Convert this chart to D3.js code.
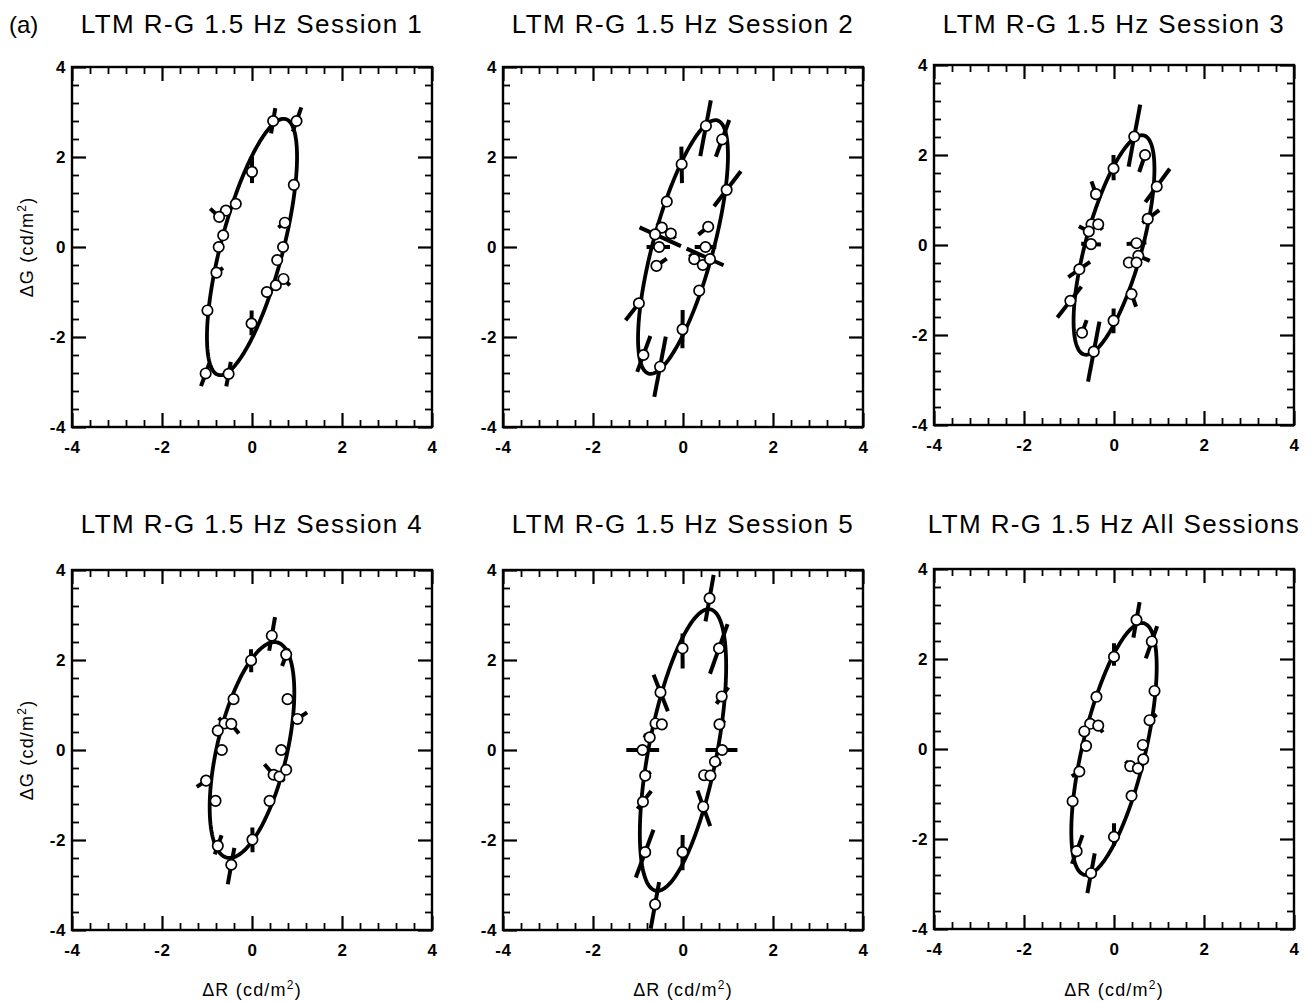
<!DOCTYPE html>
<html lang="en">
<head>
<meta charset="UTF-8">
<title>LTM R-G 1.5 Hz</title>
<script src="https://cdn.jsdelivr.net/npm/d3@7"></script>
<style>
  body { margin: 0; background: #fff; }
  text { font-family: Arial, "Liberation Sans", Helvetica, sans-serif; fill: #000; }
  .tick text { font-size: 17px; font-weight: bold; letter-spacing: 0.6px; }
</style>
</head>
<body>
<script>

// titles of the six panels
var titles = [
  "LTM R-G 1.5 Hz Session 1",
  "LTM R-G 1.5 Hz Session 2",
  "LTM R-G 1.5 Hz Session 3",
  "LTM R-G 1.5 Hz Session 4",
  "LTM R-G 1.5 Hz Session 5",
  "LTM R-G 1.5 Hz All Sessions"
];

// fitted ellipse per panel: semi-major, semi-minor (cd/m2), tilt of major axis (deg)
var ellA = [2.94, 2.915, 2.523, 2.457, 3.185, 2.872];
var ellB = [0.69, 0.67, 0.628, 0.778, 0.758, 0.70];
var ellAngle = [75.3, 74.85, 74.75, 76.9, 79.05, 76.7];

// thresholds: [dR, dG, error inward, error outward] (error along the radial direction)
var session1 = [
  [0.47, 2.80, 0.28, 0.29], [0.99, 2.80, 0.25, 0.32], [0.00, 1.67, 0.25, 0.33],
  [0.93, 1.38, 0.10, 0.10], [-0.36, 0.96, 0.05, 0.10], [-0.58, 0.81, 0.05, 0.08],
  [-0.73, 0.67, 0.05, 0.27], [0.73, 0.54, 0.18, 0.05], [-0.64, 0.26, 0.05, 0.10],
  [-0.74, 0.00, 0.10, 0.12], [0.69, 0.00, 0.08, 0.05], [0.56, -0.29, 0.05, 0.05],
  [-0.79, -0.57, 0.18, 0.05], [0.70, -0.71, 0.05, 0.20], [0.53, -0.85, 0.05, 0.05],
  [0.33, -1.00, 0.10, 0.05], [-0.99, -1.41, 0.05, 0.05], [-0.01, -1.70, 0.29, 0.26],
  [-1.03, -2.81, 0.24, 0.30], [-0.52, -2.82, 0.27, 0.28]
];
var session2 = [
  [0.51, 2.69, 0.68, 0.58], [0.87, 2.39, 0.41, 0.46], [-0.03, 1.84, 0.42, 0.39],
  [0.97, 1.27, 0.46, 0.52], [-0.36, 1.01, 0.05, 0.05], [0.56, 0.45, 0.28, 0.05],
  [-0.47, 0.43, 0.10, 0.15], [-0.62, 0.28, 0.63, 0.38], [-0.27, 0.30, 0.15, 0.05],
  [-0.53, 0.00, 0.24, 0.28], [-0.59, -0.42, 0.28, 0.05], [0.50, 0.00, 0.24, 0.24],
  [0.25, -0.27, 0.15, 0.10], [0.44, -0.40, 0.05, 0.10], [0.60, -0.27, 0.57, 0.33],
  [0.36, -0.97, 0.05, 0.05], [-0.98, -1.25, 0.10, 0.48], [-0.01, -1.83, 0.43, 0.42],
  [-0.88, -2.40, 0.45, 0.40], [-0.51, -2.66, 0.68, 0.68]
];
var session3 = [
  [0.45, 2.41, 0.68, 0.72], [0.69, 2.00, 0.40, 0.10], [-0.01, 1.70, 0.26, 0.30],
  [0.95, 1.30, 0.43, 0.49], [-0.40, 1.13, 0.05, 0.30], [0.75, 0.58, 0.15, 0.32],
  [-0.50, 0.46, 0.05, 0.10], [-0.35, 0.46, 0.15, 0.05], [-0.56, 0.30, 0.05, 0.25],
  [-0.51, 0.02, 0.22, 0.22], [0.50, 0.04, 0.22, 0.22], [0.54, -0.24, 0.05, 0.28],
  [0.33, -0.39, 0.10, 0.05], [0.50, -0.39, 0.05, 0.10], [-0.77, -0.54, 0.29, 0.30],
  [0.39, -1.09, 0.05, 0.30], [-0.97, -1.24, 0.40, 0.47], [-0.01, -1.68, 0.27, 0.28],
  [-0.71, -1.95, 0.30, 0.05], [-0.45, -2.37, 0.68, 0.68]
];
var session4 = [
  [0.44, 2.54, 0.34, 0.42], [0.76, 2.12, 0.27, 0.15], [-0.02, 1.99, 0.26, 0.25],
  [-0.41, 1.13, 0.05, 0.05], [0.79, 1.13, 0.12, 0.05], [1.01, 0.69, 0.05, 0.26],
  [-0.61, 0.59, 0.05, 0.18], [-0.46, 0.58, 0.27, 0.05], [-0.76, 0.43, 0.05, 0.12],
  [-0.67, 0.00, 0.08, 0.05], [0.65, 0.00, 0.05, 0.05], [0.48, -0.55, 0.31, 0.05],
  [0.61, -0.59, 0.05, 0.15], [0.76, -0.44, 0.05, 0.10], [-1.02, -0.68, 0.05, 0.25],
  [-0.81, -1.13, 0.12, 0.05], [0.39, -1.13, 0.05, 0.05], [0.01, -1.99, 0.27, 0.28],
  [-0.76, -2.13, 0.25, 0.20], [-0.46, -2.55, 0.38, 0.44]
];
var session5 = [
  [0.59, 3.37, 0.52, 0.53], [-0.01, 2.26, 0.45, 0.33], [0.80, 2.26, 0.60, 0.57],
  [-0.50, 1.28, 0.45, 0.42], [0.86, 1.19, 0.20, 0.25], [-0.61, 0.59, 0.05, 0.10],
  [-0.47, 0.57, 0.05, 0.05], [-0.74, 0.28, 0.10, 0.15], [-0.90, 0.00, 0.37, 0.36],
  [0.87, 0.00, 0.37, 0.34], [0.81, 0.57, 0.10, 0.15], [0.71, -0.26, 0.05, 0.15],
  [0.47, -0.56, 0.10, 0.05], [0.61, -0.57, 0.05, 0.05], [-0.84, -0.57, 0.15, 0.10],
  [-0.89, -1.15, 0.30, 0.20], [0.45, -1.26, 0.38, 0.46], [-0.84, -2.27, 0.53, 0.60],
  [-0.01, -2.27, 0.38, 0.40], [-0.62, -3.43, 0.50, 0.55]
];
var sessionAll = [
  [0.50, 2.87, 0.40, 0.40], [0.84, 2.39, 0.40, 0.36], [0.00, 2.05, 0.20, 0.30],
  [0.90, 1.29, 0.05, 0.05], [-0.39, 1.16, 0.05, 0.05], [0.79, 0.64, 0.05, 0.20],
  [-0.53, 0.56, 0.05, 0.08], [-0.35, 0.52, 0.18, 0.05], [-0.66, 0.39, 0.05, 0.08],
  [-0.62, 0.07, 0.05, 0.05], [0.64, 0.09, 0.05, 0.05], [0.65, -0.23, 0.05, 0.08],
  [0.36, -0.38, 0.15, 0.05], [0.53, -0.43, 0.05, 0.05], [-0.77, -0.50, 0.05, 0.20],
  [-0.92, -1.16, 0.05, 0.05], [0.39, -1.04, 0.05, 0.05], [0.00, -1.95, 0.30, 0.20],
  [-0.83, -2.27, 0.38, 0.30], [-0.51, -2.76, 0.45, 0.45]
];
var sessions = [session1, session2, session3, session4, session5, sessionAll];

// axis ticks
var majorTicks = [-4, -2, 0, 2, 4];
var tickLabels = ["-4", "-2", "0", "2", "4"];
var minorStep = 0.4;
var domain = [-4, 4];

// layout
var W = 1312, H = 1002, size = 360;
var panelPos = [[72, 67], [503, 67], [934, 65], [72, 570], [503, 570], [934, 569]];
var titleY = [33, 533];

var svg = d3.select("body").append("svg").attr("width", W).attr("height", H);

svg.append("text").attr("x", 9).attr("y", 33)
  .style("font-size", "24px").text("(a)");

var minorTicks = d3.range(domain[0], domain[1] + 0.001, minorStep)
  .filter(function (d) { return Math.abs(d / 2 - Math.round(d / 2)) > 0.01; });

var line = d3.line().curve(d3.curveLinearClosed);

sessions.forEach(function (pts, i) {
  var left = panelPos[i][0], top = panelPos[i][1];
  var g = svg.append("g").attr("transform", "translate(" + left + "," + top + ")");
  var x = d3.scaleLinear().domain(domain).range([0, size]);
  var y = d3.scaleLinear().domain(domain).range([size, 0]);

  // title
  svg.append("text")
    .attr("x", left + size / 2).attr("y", titleY[Math.floor(i / 3)])
    .attr("text-anchor", "middle")
    .style("font-size", "26px").style("letter-spacing", "1.4px")
    .text(titles[i]);

  // ticks on all four sides, pointing inwards
  function ax(axis, vals, len, labelled) {
    axis.tickValues(vals).tickSizeInner(-len).tickSizeOuter(0);
    if (labelled) axis.tickFormat(function (d) { return tickLabels[majorTicks.indexOf(d)]; });
    else axis.tickFormat("");
    return axis;
  }
  var sides = [
    [d3.axisBottom(x), "translate(0," + size + ")"],
    [d3.axisTop(x), "translate(0,0)"],
    [d3.axisLeft(y), "translate(0,0)"],
    [d3.axisRight(y), "translate(" + size + ",0)"]
  ];
  sides.forEach(function (s) {
    var gm = g.append("g").attr("transform", s[1])
      .call(ax(s[0], minorTicks, 7, false));
    gm.select(".domain").remove();
    gm.selectAll("line").attr("stroke", "#000").attr("stroke-width", 1.8);
  });
  sides = [
    [d3.axisBottom(x).tickPadding(14), "translate(0," + size + ")", true],
    [d3.axisTop(x), "translate(0,0)", false],
    [d3.axisLeft(y).tickPadding(6), "translate(0,0)", true],
    [d3.axisRight(y), "translate(" + size + ",0)", false]
  ];
  sides.forEach(function (s) {
    var ga = g.append("g").attr("transform", s[1])
      .call(ax(s[0], majorTicks, 14, s[2]));
    ga.select(".domain").remove();
    ga.selectAll("line").attr("stroke", "#000").attr("stroke-width", 2.2);
  });

  g.append("rect").attr("width", size).attr("height", size)
    .attr("fill", "none").attr("stroke", "#000").attr("stroke-width", 2.4);

  // fitted ellipse
  var phi = ellAngle[i] * Math.PI / 180;
  var ring = d3.range(0, 2 * Math.PI, Math.PI / 90).map(function (t) {
    var ex = ellA[i] * Math.cos(t) * Math.cos(phi) - ellB[i] * Math.sin(t) * Math.sin(phi);
    var ey = ellA[i] * Math.cos(t) * Math.sin(phi) + ellB[i] * Math.sin(t) * Math.cos(phi);
    return [x(ex), y(ey)];
  });
  g.append("path").attr("d", line(ring))
    .attr("fill", "none").attr("stroke", "#000").attr("stroke-width", 3.8);

  // radial error bars
  g.selectAll(".err").data(pts).enter().append("line")
    .attr("class", "err")
    .each(function (d) {
      var r = Math.hypot(d[0], d[1]);
      var ux = d[0] / r, uy = d[1] / r;
      var r0 = Math.max(r - d[2], 0), r1 = r + d[3];
      d3.select(this)
        .attr("x1", x(ux * r0)).attr("y1", y(uy * r0))
        .attr("x2", x(ux * r1)).attr("y2", y(uy * r1));
    })
    .attr("stroke", "#000").attr("stroke-width", 4);

  // data points
  g.selectAll(".pt").data(pts).enter().append("circle")
    .attr("class", "pt")
    .attr("cx", function (d) { return x(d[0]); })
    .attr("cy", function (d) { return y(d[1]); })
    .attr("r", 5.2)
    .attr("fill", "#fff").attr("stroke", "#000").attr("stroke-width", 1.7);

  // axis titles
  if (i % 3 === 0) {
    var yl = svg.append("text")
      .attr("transform", "translate(" + 33 + "," + (top + size / 2) + ") rotate(-90)")
      .attr("text-anchor", "middle")
      .style("font-size", "18px").style("letter-spacing", "1.2px");
    yl.append("tspan").text("\u0394G (cd/m");
    yl.append("tspan").attr("dy", -7).style("font-size", "12px").text("2");
    yl.append("tspan").attr("dy", 7).text(")");
  }
  if (i >= 3) {
    var xl = svg.append("text")
      .attr("x", left + size / 2).attr("y", 996)
      .attr("text-anchor", "middle")
      .style("font-size", "18px").style("letter-spacing", "1.2px");
    xl.append("tspan").text("\u0394R (cd/m");
    xl.append("tspan").attr("dy", -7).style("font-size", "12px").text("2");
    xl.append("tspan").attr("dy", 7).text(")");
  }
});

</script>
</body>
</html>
